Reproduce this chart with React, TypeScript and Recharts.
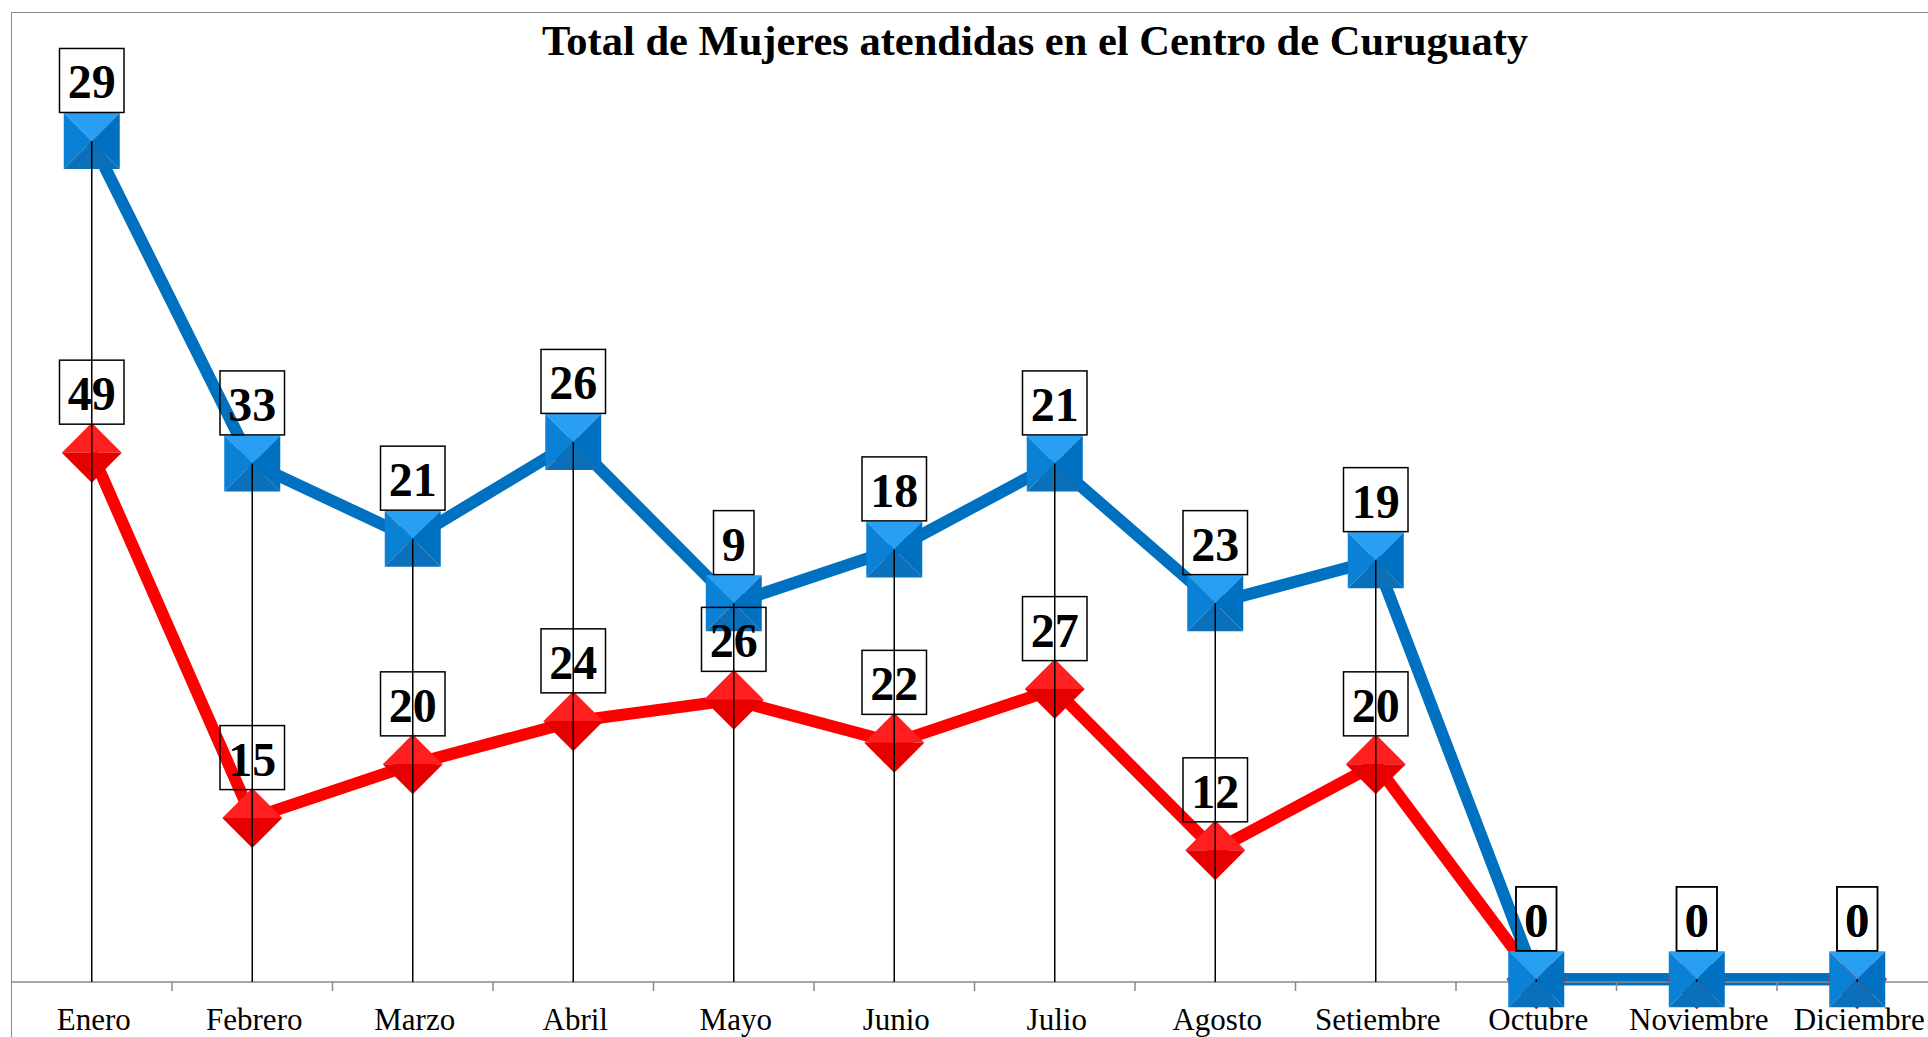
import { LineChart, Line, XAxis, YAxis, LabelList } from "recharts";

const meses = [
  "Enero",
  "Febrero",
  "Marzo",
  "Abril",
  "Mayo",
  "Junio",
  "Julio",
  "Agosto",
  "Setiembre",
  "Octubre",
  "Noviembre",
  "Diciembre",
];
// serie roja (rombos)
const serieRoja = [49, 15, 20, 24, 26, 22, 27, 12, 20, 0, 0, 0];
// serie azul (cuadrados), apilada encima de la roja
const serieAzul = [29, 33, 21, 26, 9, 18, 21, 23, 19, 0, 0, 0];
const dominioY = [-0.25, 90];
const titulo = "Total de Mujeres atendidas en el Centro de Curuguaty";

const CHART_W = 1948.5;
const CHART_H = 1037;
const MARGIN = { top: 12, right: 11, bottom: 0, left: 11.5 };
const AXIS_H = 55;
const PLOT_W = CHART_W - MARGIN.left - MARGIN.right;
const STEP = PLOT_W / meses.length;
const BASE_Y = CHART_H - MARGIN.bottom - AXIS_H;

const SERIF = '"Liberation Serif", "Times New Roman", serif';
const GRIS = "#8a8a8a";

const data = meses.map((mes, i) => ({
  mes,
  roja: serieRoja[i],
  azul: serieAzul[i],
  total: serieRoja[i] + serieAzul[i],
}));

function Rombo(props: any) {
  const { cx, cy, index } = props;
  if (cx == null || cy == null) return <g key={`r-${index}`} />;
  const r = 30;
  return (
    <g key={`r-${index}`}>
      <polygon points={`${cx - r},${cy} ${cx},${cy - r} ${cx + r},${cy}`} fill="#ff1f1f" />
      <polygon points={`${cx - r},${cy} ${cx},${cy + r} ${cx + r},${cy}`} fill="#e60000" />
    </g>
  );
}

// cuadro azul con la linea de caida hasta el eje
function Cuadro(props: any) {
  const { cx, cy, index } = props;
  if (cx == null || cy == null) return <g key={`c-${index}`} />;
  const h = 28;
  const tl = `${cx - h},${cy - h}`;
  const tr = `${cx + h},${cy - h}`;
  const bl = `${cx - h},${cy + h}`;
  const br = `${cx + h},${cy + h}`;
  const c = `${cx},${cy}`;
  return (
    <g key={`c-${index}`}>
      <polygon points={`${tl} ${tr} ${c}`} fill="#289ff2" />
      <polygon points={`${tl} ${bl} ${c}`} fill="#0b81d6" />
      <polygon points={`${tr} ${br} ${c}`} fill="#0071c1" />
      <polygon points={`${bl} ${br} ${c}`} fill="#0b6fba" />
      <line x1={cx} y1={cy} x2={cx} y2={BASE_Y} stroke="#000" strokeWidth={1.5} />
    </g>
  );
}

function Etiqueta(props: any) {
  const { x, y, value } = props;
  if (x == null || y == null) return null;
  const txt = String(value);
  const w = txt.length * 24 + 16.5;
  return (
    <g>
      <rect
        x={x - w / 2}
        y={y - 92.5}
        width={w}
        height={64}
        fill="none"
        stroke="#000"
        strokeWidth={1.5}
      />
      <text
        x={x}
        y={y - 42.5}
        textAnchor="middle"
        fontFamily={SERIF}
        fontWeight="bold"
        fontSize={48}
        fill="#000"
      >
        {txt}
      </text>
    </g>
  );
}

function TickMes(props: any) {
  const { x, y, payload } = props;
  return (
    <g>
      <line x1={x + STEP / 2} y1={y} x2={x + STEP / 2} y2={y + 9} stroke={GRIS} strokeWidth={1.5} />
      <text x={x + 2} y={y + 48} textAnchor="middle" fontFamily={SERIF} fontSize={31} fill="#000">
        {payload.value}
      </text>
    </g>
  );
}

export default function App() {
  return (
    <div
      style={{
        position: "fixed",
        left: 0,
        top: 0,
        width: 1928,
        height: 1037,
        overflow: "hidden",
        background: "#fff",
      }}
    >
      <div
        style={{
          position: "absolute",
          left: 11,
          top: 11.5,
          width: 5000,
          height: 5000,
          borderLeft: `1.5px solid ${GRIS}`,
          borderTop: `1.5px solid ${GRIS}`,
        }}
      />
      <div style={{ position: "absolute", left: 0, top: 0 }}>
        <LineChart width={CHART_W} height={CHART_H} data={data} margin={MARGIN}>
          <XAxis
            dataKey="mes"
            height={AXIS_H}
            interval={0}
            padding={{ left: STEP / 2, right: STEP / 2 }}
            axisLine={{ stroke: GRIS, strokeWidth: 1.5 }}
            tickLine={false}
            tickSize={0}
            tickMargin={0}
            tick={(p: any) => <TickMes {...p} />}
          />
          <YAxis hide domain={dominioY} allowDataOverflow={false} />
          <Line
            dataKey="roja"
            stroke="#ff0000"
            strokeWidth={12}
            dot={(p: any) => <Rombo {...p} />}
            activeDot={false}
            isAnimationActive={false}
          />
          <Line
            dataKey="total"
            stroke="#0070c0"
            strokeWidth={12}
            dot={(p: any) => <Cuadro {...p} />}
            activeDot={false}
            isAnimationActive={false}
          >
            <LabelList dataKey="azul" content={(p: any) => <Etiqueta {...p} />} />
          </Line>
          <Line
            dataKey="roja"
            stroke="none"
            dot={false}
            activeDot={false}
            isAnimationActive={false}
          >
            <LabelList dataKey="roja" content={(p: any) => <Etiqueta {...p} />} />
          </Line>
        </LineChart>
      </div>
      <svg width={1928} height={90} style={{ position: "absolute", left: 0, top: 0 }}>
        <text
          x={1035}
          y={55}
          textAnchor="middle"
          fontFamily={SERIF}
          fontWeight="bold"
          fontSize={42.5}
          fill="#000"
        >
          {titulo}
        </text>
      </svg>
    </div>
  );
}
